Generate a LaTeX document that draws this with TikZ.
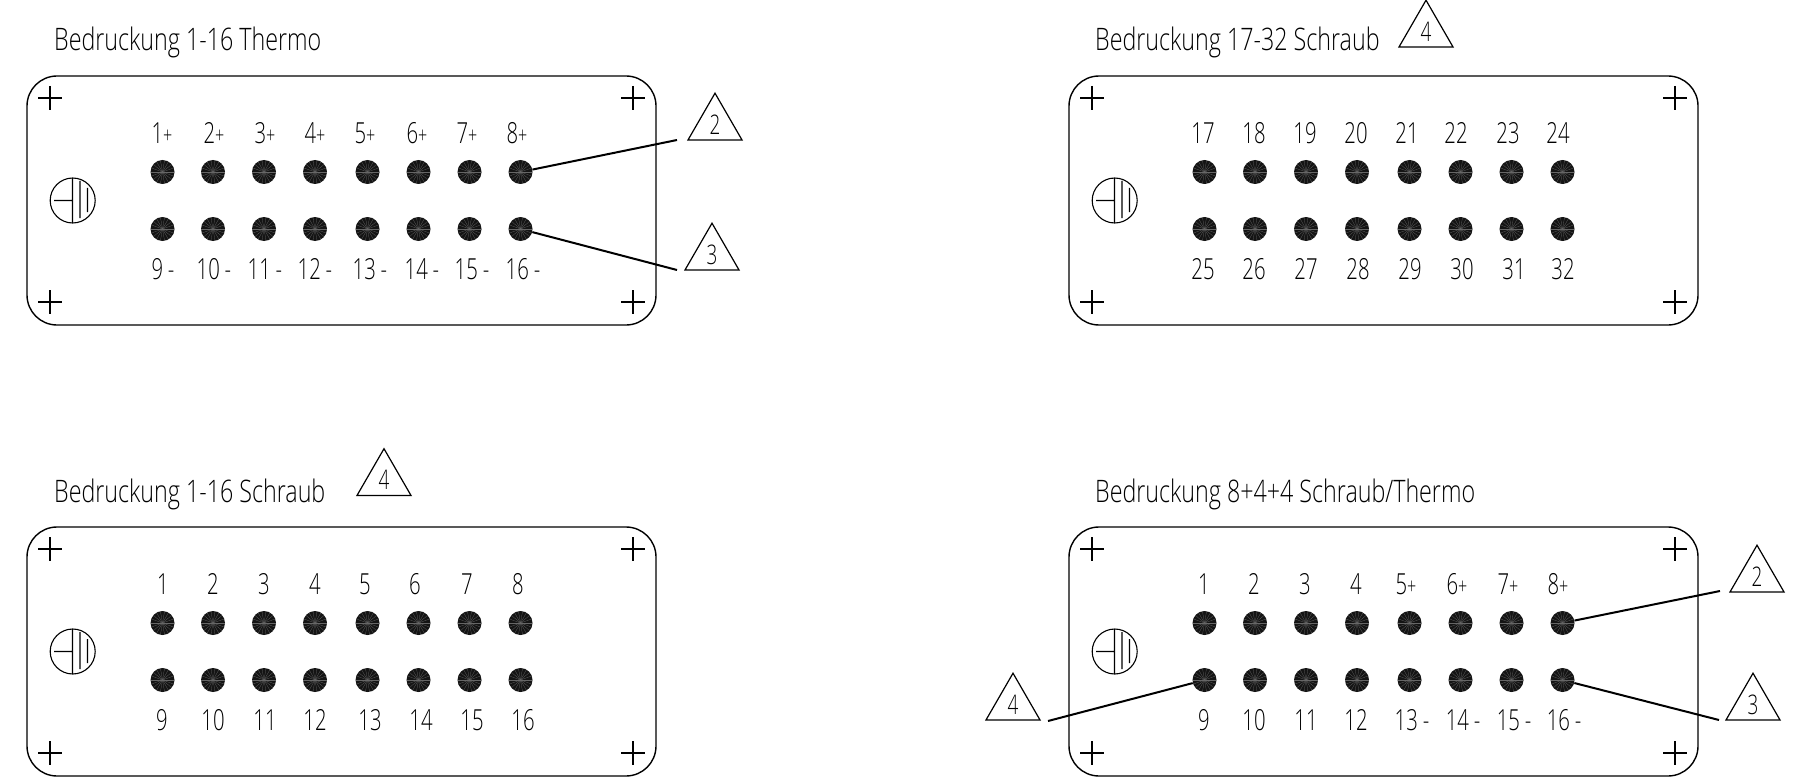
\documentclass[tikz,border=0pt]{standalone}
\usepackage{fontspec}
\usetikzlibrary{shapes.geometric}
\newfontfamily\cadfont[FakeStretch=0.75]{Open Sans Light}
\newfontfamily\cadzahl[FakeStretch=0.7]{Open Sans Light}
\newcommand{\kp}{{\fontsize{23}{23}\selectfont+}}
\newcommand{\km}{\,-}
\tikzset{
	titel/.style={anchor=base west,inner sep=0pt,font=\cadfont\fontsize{31}{31}\selectfont},
	nummer/.style={inner sep=0pt,font=\cadzahl\fontsize{29}{29}\selectfont},
	dreieck/.style={draw,regular polygon,regular polygon sides=3,minimum size=62.4pt,inner sep=0pt,line width=1.2pt,font=\cadzahl\fontsize{27}{27}\selectfont},
	kontakt/.style={circle,fill=black!92,minimum size=24pt,inner sep=0pt,path picture={
		\foreach \a in {0,20,...,340} \draw[black!60,line width=0.25pt] (path picture bounding box.center) -- ++(\a:12);}},
	zeiger/.style={line width=2pt},
	platte/.pic={
		\draw[line width=1.4pt,rounded corners=30] (27,76) rectangle (656,325);
		\foreach \x/\y in {50/98,50/302,633/98,633/302}
			\draw[line width=1.1pt] (\x-12,\y) -- (\x+12,\y) (\x,\y-12) -- (\x,\y+12);
		\draw[line width=1.1pt] (72.7,200.5) circle (22.5) (54,200.5) -- (72.5,200.5) (72.5,178) -- (72.5,223) (80,181) -- (80,218) (87.5,188) -- (87.5,212);
		\foreach \x [count=\i] in {162.5,213,264,315,367.5,418.5,469.5,520.5}
			\node[kontakt] (-d\i) at (\x,172) {};
		\foreach \x [count=\i from 9] in {162.5,213,264,315,367.5,418.5,469.5,520.5}
			\node[kontakt] (-d\i) at (\x,229) {};
	}
}
\begin{document}
\begin{tikzpicture}[x=1pt,y=-1pt]
	\useasboundingbox (0,0) rectangle (1798,778);
	% oben links
	\pic (pa) at (0,0) {platte};
	\node[titel] (ta) at (54,51) {Bedruckung 1-16 Thermo};
	\foreach \x/\t [count=\i] in {162/1\kp,214/2\kp,265/3\kp,315/4\kp,365/5\kp,417/6\kp,467/7\kp,517/8\kp}
		\node[nummer] (ao\i) at (\x,133) {\t};
	\foreach \x/\t [count=\i] in {163/9\km,214/10\km,265/11\km,315/12\km,370/13\km,422/14\km,472/15\km,523/16\km}
		\node[nummer] (au\i) at (\x,269) {\t};
	\node[dreieck] (da2) at (715,124.4) {2};
	\node[dreieck] (da3) at (712,254.4) {3};
	\coordinate (ea2) at (677,140);
	\coordinate (ea3) at (677,270);
	\draw[zeiger] (pa-d8) -- (ea2);
	\draw[zeiger] (pa-d16) -- (ea3);
	% oben rechts
	\pic (pb) at (1042,0) {platte};
	\node[titel] (tb) at (1095,51) {Bedruckung 17-32 Schraub};
	\foreach \x/\t [count=\i] in {1203/17,1254/18,1305/19,1356/20,1407/21,1456/22,1508/23,1558/24}
		\node[nummer] (bo\i) at (\x,133) {\t};
	\foreach \x/\t [count=\i] in {1203/25,1254/26,1306/27,1358/28,1410/29,1462/30,1514/31,1563/32}
		\node[nummer] (bu\i) at (\x,269) {\t};
	\node[dreieck] (db4) at (1426,31.4) {4};
	% unten links
	\pic (pc) at (0,451) {platte};
	\node[titel] (tc) at (54,502) {Bedruckung 1-16 Schraub};
	\foreach \x/\t [count=\i] in {163/1,213/2,264/3,315/4,365/5,415/6,467/7,518/8}
		\node[nummer] (co\i) at (\x,584) {\t};
	\foreach \x/\t [count=\i] in {162/9,213/10,265/11,315/12,370/13,421/14,472/15,523/16}
		\node[nummer] (cu\i) at (\x,720) {\t};
	\node[dreieck] (dc4) at (384,479.9) {4};
	% unten rechts
	\pic (pd) at (1042,451) {platte};
	\node[titel] (td) at (1095,502) {Bedruckung 8+4+4 Schraub/Thermo};
	\foreach \x/\t [count=\i] in {1204/1,1254/2,1305/3,1356/4,1406/5\kp,1457/6\kp,1508/7\kp,1558/8\kp}
		\node[nummer] (do\i) at (\x,584) {\t};
	\foreach \x/\t [count=\i] in {1204/9,1254/10,1306/11,1356/12,1412/13\km,1463/14\km,1514/15\km,1564/16\km}
		\node[nummer] (du\i) at (\x,720) {\t};
	\node[dreieck] (dd2) at (1757,576.4) {2};
	\node[dreieck] (dd3) at (1753,704.4) {3};
	\node[dreieck] (dd4) at (1013,704.4) {4};
	\coordinate (ed2) at (1720,591);
	\coordinate (ed3) at (1719,720);
	\coordinate (ed4) at (1048,721);
	\draw[zeiger] (pd-d8) -- (ed2);
	\draw[zeiger] (pd-d16) -- (ed3);
	\draw[zeiger] (pd-d9) -- (ed4);
\end{tikzpicture}
\end{document}
